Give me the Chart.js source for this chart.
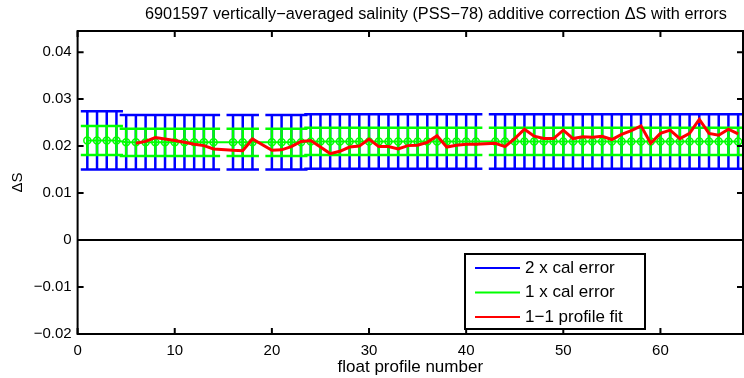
<!DOCTYPE html>
<html>
<head>
<meta charset="utf-8">
<script src="https://cdn.jsdelivr.net/npm/chart.js@4.4.1/dist/chart.umd.min.js"></script>
<style>
    html, body { margin: 0; padding: 0; background: #fff; }
    #wrap { width: 744px; height: 378px; }
</style>
</head>
<body>
<div id="wrap"><canvas id="offsetChart" width="744" height="378"></canvas></div>
<script>
// profiles with a calibration (15, 19 and 42 are missing)
const profileNo = [1, 2, 3, 4, 5, 6, 7, 8, 9, 10, 11, 12, 13, 14,
    16, 17, 18,
    20, 21, 22, 23, 24, 25, 26, 27, 28, 29, 30, 31, 32, 33, 34, 35, 36, 37, 38, 39, 40, 41,
    43, 44, 45, 46, 47, 48, 49, 50, 51, 52, 53, 54, 55, 56, 57, 58, 59, 60, 61, 62, 63, 64, 65, 66, 67, 68];
const avgOffset = [0.0212, 0.0212, 0.0212, 0.0212, 0.0208, 0.0208, 0.0208, 0.0208, 0.0208, 0.0208, 0.0208, 0.0208, 0.0208, 0.0208,
    0.0208, 0.0208, 0.0208,
    0.0208, 0.0208, 0.0208, 0.0208, 0.0210, 0.0210, 0.0210, 0.0210, 0.0210, 0.0210, 0.0210, 0.0210, 0.0210, 0.0210, 0.0210, 0.0210, 0.0210, 0.0210, 0.0210, 0.0210, 0.0210, 0.0210,
    0.0210, 0.0210, 0.0210, 0.0210, 0.0210, 0.0210, 0.0210, 0.0210, 0.0210, 0.0210, 0.0210, 0.0210, 0.0210, 0.0210, 0.0210, 0.0210, 0.0210, 0.0210, 0.0210, 0.0210, 0.0210, 0.0210, 0.0210, 0.0210, 0.0210, 0.0210];
const calError = [0.0031, 0.0031, 0.0031, 0.0031, 0.0029, 0.0029, 0.0029, 0.0029, 0.0029, 0.0029, 0.0029, 0.0029, 0.0029, 0.0029,
    0.0029, 0.0029, 0.0029,
    0.0029, 0.0029, 0.0029, 0.0029, 0.0029, 0.0029, 0.0029, 0.0029, 0.0029, 0.0029, 0.0029, 0.0029, 0.0029, 0.0029, 0.0029, 0.0029, 0.0029, 0.0029, 0.0029, 0.0029, 0.0029, 0.0029,
    0.0029, 0.0029, 0.0029, 0.0029, 0.0029, 0.0029, 0.0029, 0.0029, 0.0029, 0.0029, 0.0029, 0.0029, 0.0029, 0.0029, 0.0029, 0.0029, 0.0029, 0.0029, 0.0029, 0.0029, 0.0029, 0.0029, 0.0029, 0.0029, 0.0029, 0.0029];

// 1-1 profile fit
const fitProfileNo = [6, 7, 8, 9, 10, 11, 12, 13, 14,
    16, 17, 18,
    20, 21, 22, 23, 24, 25, 26, 27, 28, 29, 30, 31, 32, 33, 34, 35, 36, 37, 38, 39, 40, 41,
    43, 44, 45, 46, 47, 48, 49, 50, 51, 52, 53, 54, 55, 56, 57, 58, 59, 60, 61, 62, 63, 64, 65, 66, 67, 68];
const fitOffset = [0.0206, 0.0210, 0.0218, 0.0215, 0.0212, 0.0208, 0.0204, 0.0201, 0.0194,
    0.0191, 0.0190, 0.0215,
    0.0191, 0.0192, 0.0199, 0.0210, 0.0212, 0.0198, 0.0184, 0.0189, 0.0198, 0.0200, 0.0215, 0.0199, 0.0199, 0.0194, 0.0201, 0.0202, 0.0208, 0.0222, 0.0198, 0.0202, 0.0204, 0.0204,
    0.0206, 0.0199, 0.0216, 0.0236, 0.0221, 0.0216, 0.0216, 0.0234, 0.0216, 0.0220, 0.0219, 0.0221, 0.0214, 0.0225, 0.0233, 0.0243, 0.0206, 0.0227, 0.0234, 0.0216, 0.0227, 0.0257, 0.0227, 0.0223, 0.0236, 0.0226];

const xTicks = [0, 10, 20, 30, 40, 50, 60];
const yTicks = [-0.02, -0.01, 0, 0.01, 0.02, 0.03, 0.04];
const xMin = 0, xMax = 68.5;
const yMin = -0.02, yMax = 0.0445;

const titleText = '6901597 vertically\u2212averaged salinity (PSS\u221278) additive correction \u0394S with errors';
const FONT = "'Liberation Sans', Arial, Helvetica, sans-serif";

// matlab errorbar tee width
const tee = (Math.max(...profileNo) - Math.min(...profileNo)) / 100;

function errorSegments(mult) {
    const pts = [];
    profileNo.forEach((p, i) => {
        const lo = avgOffset[i] - mult * calError[i];
        const hi = avgOffset[i] + mult * calError[i];
        pts.push({x: p, y: lo}, {x: p, y: hi}, {x: p, y: null});
        pts.push({x: p - tee, y: hi}, {x: p + tee, y: hi}, {x: p, y: null});
        pts.push({x: p - tee, y: lo}, {x: p + tee, y: lo}, {x: p, y: null});
    });
    return pts;
}

// title, box, inward ticks and the legend, matlab style
const matlabFrame = {
    id: 'matlabFrame',
    afterDraw(chart) {
        const {ctx, chartArea: a, scales: {x, y}} = chart;
        ctx.save();
        ctx.fillStyle = '#000';
        ctx.font = '16.3px ' + FONT;
        ctx.textAlign = 'left';
        ctx.textBaseline = 'middle';
        ctx.fillText(titleText, 145, 15);

        ctx.strokeStyle = '#000';
        ctx.lineWidth = 2;
        ctx.beginPath();
        x.ticks.forEach(t => {
            const px = x.getPixelForValue(t.value);
            ctx.moveTo(px, a.bottom); ctx.lineTo(px, a.bottom - 6);
            ctx.moveTo(px, a.top); ctx.lineTo(px, a.top + 6);
        });
        y.ticks.forEach(t => {
            const py = y.getPixelForValue(t.value);
            ctx.moveTo(a.left, py); ctx.lineTo(a.left + 6, py);
            ctx.moveTo(a.right, py); ctx.lineTo(a.right - 6, py);
        });
        ctx.stroke();
        ctx.strokeRect(a.left, a.top, a.right - a.left, a.bottom - a.top);

        const items = chart.data.datasets.filter(d => d.inLegend).sort((p, q) => q.order - p.order);
        const w = 180, h = 75;
        const lx = a.right - 98 - w, ly = a.bottom - 5 - h;
        ctx.fillStyle = '#fff';
        ctx.fillRect(lx, ly, w, h);
        ctx.strokeRect(lx, ly, w, h);
        ctx.font = '17px ' + FONT;
        items.forEach((d, i) => {
            const yy = ly + 14 + i * 24.5;
            ctx.strokeStyle = d.borderColor;
            ctx.lineWidth = 2;
            ctx.beginPath();
            ctx.moveTo(lx + 10, yy); ctx.lineTo(lx + 55, yy);
            ctx.stroke();
            ctx.fillStyle = '#000';
            ctx.fillText(d.label, lx + 60, yy);
        });
        ctx.restore();
    }
};

const ctx = document.getElementById('offsetChart').getContext('2d');
const offsetChart = new Chart(ctx, {
    type: 'line',
    data: {
        datasets: [{
            label: '1\u22121 profile fit',
            inLegend: true,
            data: fitProfileNo.map((p, i) => ({x: p, y: fitOffset[i]})),
            borderColor: '#ff0000',
            borderWidth: 3,
            pointRadius: 0,
            order: 0
        }, {
            label: 'calibration offset',
            data: profileNo.map((p, i) => ({x: p, y: avgOffset[i]})),
            borderColor: '#00ff00',
            borderWidth: 2,
            pointRadius: 3.5,
            pointBorderWidth: 1.5,
            pointBorderColor: '#00ff00',
            pointBackgroundColor: 'rgba(0,0,0,0)',
            order: 1
        }, {
            label: '1 x cal error',
            inLegend: true,
            data: errorSegments(1),
            borderColor: '#00ff00',
            borderWidth: 2.5,
            borderCapStyle: 'butt',
            pointRadius: 0,
            order: 2
        }, {
            label: '2 x cal error',
            inLegend: true,
            data: errorSegments(2),
            borderColor: '#0000ff',
            borderWidth: 2.5,
            borderCapStyle: 'butt',
            pointRadius: 0,
            order: 3
        }, {
            label: 'zero',
            data: [{x: xMin, y: 0}, {x: xMax, y: 0}],
            borderColor: '#000',
            borderWidth: 2,
            pointRadius: 0,
            order: 4
        }]
    },
    options: {
        responsive: false,
        animation: false,
        events: [],
        spanGaps: false,
        layout: { autoPadding: false, padding: { top: 31, right: 1 } },
        plugins: {
            legend: { display: false },
            tooltip: { enabled: false },
            title: { display: false }
        },
        scales: {
            x: {
                type: 'linear',
                min: xMin,
                max: xMax,
                afterBuildTicks: s => { s.ticks = xTicks.map(v => ({value: v})); },
                afterFit: s => { s.height = 44; s.paddingLeft = 0; s.paddingRight = 0; },
                grid: { display: false, drawTicks: false },
                border: { display: false },
                ticks: {
                    color: '#000',
                    padding: 8,
                    maxRotation: 0,
                    font: { family: FONT, size: 15 },
                    callback: v => String(v)
                },
                title: {
                    display: true,
                    text: 'float profile number',
                    color: '#000',
                    font: { family: FONT, size: 17 },
                    padding: { top: 0, bottom: 0 }
                }
            },
            y: {
                type: 'linear',
                min: yMin,
                max: yMax,
                afterBuildTicks: s => { s.ticks = yTicks.map(v => ({value: v})); },
                afterFit: s => { s.width = 77.6; s.paddingTop = 0; s.paddingBottom = 0; },
                grid: { display: false, drawTicks: false },
                border: { display: false },
                ticks: {
                    color: '#000',
                    padding: 6,
                    font: { family: FONT, size: 15 },
                    callback: v => v === 0 ? '0' : v.toFixed(2).replace('-', '\u2212')
                },
                title: {
                    display: true,
                    text: '\u0394S',
                    color: '#000',
                    font: { family: FONT, size: 15 },
                    padding: { top: 9, bottom: 0 }
                }
            }
        }
    },
    plugins: [matlabFrame]
});
</script>
</body>
</html>
